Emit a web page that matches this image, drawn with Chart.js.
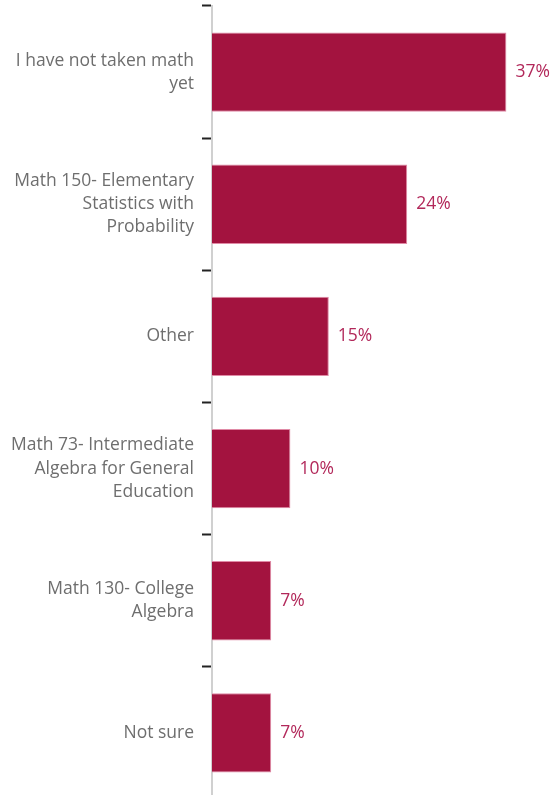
<!DOCTYPE html>
<html>
<head>
<meta charset="utf-8">
<script src="https://cdn.jsdelivr.net/npm/chart.js@4"></script>
<style>
  html, body { margin: 0; padding: 0; background: #fff; overflow: hidden; }
  #wrap { position: relative; width: 554px; height: 800px; }
</style>
</head>
<body>
<div id="wrap"><canvas id="chart"></canvas></div>
<script>
// Answers (wrapped as in the reference) and their shares in percent
const answers = [
    ['I have not taken math', 'yet'],
    ['Math 150- Elementary', 'Statistics with', 'Probability'],
    ['Other'],
    ['Math 73- Intermediate', 'Algebra for General', 'Education'],
    ['Math 130- College', 'Algebra'],
    ['Not sure']
];
const shares = [36.8, 24.4, 14.6, 9.8, 7.4, 7.4];

const BAR = '#a3133f';
const FONT = '"Open Sans", "Noto Sans", sans-serif';

// value labels to the right of each bar
const valueLabels = {
    id: 'valueLabels',
    afterDatasetsDraw(chart) {
        const ctx = chart.ctx;
        const meta = chart.getDatasetMeta(0);
        ctx.save();
        ctx.fillStyle = '#b2285a';
        ctx.font = '17.5px ' + FONT;
        ctx.textAlign = 'left';
        ctx.textBaseline = 'middle';
        meta.data.forEach(function(bar, i) {
            ctx.fillText(Math.round(shares[i]) + '%', bar.x + 9, bar.y);
        });
        ctx.restore();
    }
};

new Chart(document.getElementById('chart'), {
    type: 'bar',
    data: {
        labels: answers,
        datasets: [{
            data: shares,
            backgroundColor: BAR,
            borderColor: '#e08aa6',
            borderWidth: 1,
            borderSkipped: 'start',
            barPercentage: 0.6,
            categoryPercentage: 1.0
        }]
    },
    options: {
        indexAxis: 'y',
        responsive: true,
        maintainAspectRatio: false,
        animation: false,
        layout: { padding: { top: 6, right: 6, bottom: 1, left: 0 } },
        plugins: {
            legend: { display: false },
            tooltip: { enabled: false }
        },
        scales: {
            x: {
                display: false,
                min: 0,
                max: 42
            },
            y: {
                afterFit(scale) {
                    scale.width = 212;
                    scale.paddingTop = 0;
                    scale.paddingBottom = 0;
                },
                border: { display: true, color: '#d0d0d0', width: 2 },
                grid: {
                    offset: true,
                    drawOnChartArea: false,
                    drawTicks: true,
                    tickLength: 10,
                    tickWidth: 2,
                    color: '#222',
                    tickColor: '#222'
                },
                ticks: {
                    color: '#6e6e6e',
                    padding: 8,
                    font: { family: FONT, size: 17.5, lineHeight: 1.32 }
                }
            }
        }
    },
    plugins: [valueLabels]
});
</script>
</body>
</html>
